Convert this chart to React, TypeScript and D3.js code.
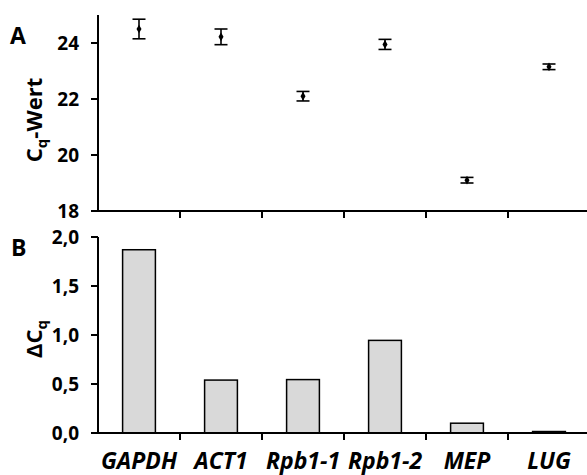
import React from 'react'
import * as d3 from 'd3'

const genes = ['GAPDH', 'ACT1', 'Rpb1-1', 'Rpb1-2', 'MEP', 'LUG']
const cqMean = [24.5, 24.22, 22.1, 23.95, 19.1, 23.15]
const cqErr = [0.35, 0.28, 0.17, 0.18, 0.1, 0.1]
const deltaCq = [1.87, 0.54, 0.545, 0.945, 0.1, 0.015]
const cqTicks = [18, 20, 22, 24]
const dTicks = [0, 0.5, 1, 1.5, 2]

const W = 587
const H = 475
const font = '"Open Sans", sans-serif'

export default function App() {
  const x = d3.scaleBand().domain(genes).range([98, 590])
  const bw = x.bandwidth()
  const yTop = d3.scaleLinear().domain([18, 25]).range([211, 15])
  const yBot = d3.scaleLinear().domain([0, 2]).range([433, 237])
  const diamond = d3.symbol().type(d3.symbolDiamond).size(22)()
  const fmt = (v: number) => d3.format('.1f')(v).replace('.', ',')
  const barW = bw * 0.4

  const catTicks = genes.map(g => x(g)!).concat([x(genes[5])! + bw])

  return (
    <svg width={W} height={H} style={{ position: 'absolute', left: 0, top: 0, background: '#fff' }}>
      {/* panel A */}
      <text x={10} y={44} fontFamily={font} fontWeight="bold" fontSize={23}>A</text>
      <text transform={`translate(42,${120}) rotate(-90)`} textAnchor="middle"
        fontFamily={font} fontWeight="bold" fontSize={22}>
        C<tspan fontSize={15} dy={5}>q</tspan><tspan dy={-5}>-Wert</tspan>
      </text>
      <line x1={98} x2={98} y1={15} y2={211} stroke="#000" strokeWidth={2} />
      <line x1={97} x2={W} y1={211} y2={211} stroke="#000" strokeWidth={2} />
      {cqTicks.map(t => (
        <g key={t}>
          <line x1={91} x2={98} y1={yTop(t)} y2={yTop(t)} stroke="#000" strokeWidth={2} />
          <text x={79} y={yTop(t)} dy="0.36em" textAnchor="end"
            fontFamily={font} fontWeight="bold" fontSize={19}>{t}</text>
        </g>
      ))}
      {catTicks.slice(1).map((t, i) => (
        <line key={i} x1={t} x2={t} y1={211} y2={218} stroke="#000" strokeWidth={2} />
      ))}
      {genes.map((g, i) => {
        const cx = x(g)! + bw / 2
        const y0 = yTop(cqMean[i] - cqErr[i])
        const y1 = yTop(cqMean[i] + cqErr[i])
        return (
          <g key={g} stroke="#000" strokeWidth={1.6}>
            <line x1={cx} x2={cx} y1={y0} y2={y1} />
            <line x1={cx - 6.5} x2={cx + 6.5} y1={y0} y2={y0} />
            <line x1={cx - 6.5} x2={cx + 6.5} y1={y1} y2={y1} />
            <path d={diamond} transform={`translate(${cx},${yTop(cqMean[i])})`} fill="#000" stroke="none" />
          </g>
        )
      })}

      {/* panel B */}
      <text x={11} y={256} fontFamily={font} fontWeight="bold" fontSize={23}>B</text>
      <text transform={`translate(42,${339}) rotate(-90)`} textAnchor="middle"
        fontFamily={font} fontWeight="bold" fontSize={22}>
        ΔC<tspan fontSize={15} dy={5}>q</tspan>
      </text>
      {genes.map((g, i) => (
        <rect key={g} x={x(g)! + (bw - barW) / 2} width={barW}
          y={yBot(deltaCq[i])} height={yBot(0) - yBot(deltaCq[i])}
          fill="#d9d9d9" stroke="#000" strokeWidth={1.5} />
      ))}
      <line x1={98} x2={98} y1={237} y2={433} stroke="#000" strokeWidth={2} />
      <line x1={97} x2={W} y1={433} y2={433} stroke="#000" strokeWidth={2} />
      {dTicks.map(t => (
        <g key={t}>
          <line x1={91} x2={98} y1={yBot(t)} y2={yBot(t)} stroke="#000" strokeWidth={2} />
          <text x={79} y={yBot(t)} dy="0.36em" textAnchor="end"
            fontFamily={font} fontWeight="bold" fontSize={19}>{fmt(t)}</text>
        </g>
      ))}
      {catTicks.slice(1).map((t, i) => (
        <line key={i} x1={t} x2={t} y1={433} y2={440} stroke="#000" strokeWidth={2} />
      ))}
      {genes.map(g => (
        <text key={g} x={x(g)! + bw / 2} y={469} textAnchor="middle"
          fontFamily={font} fontWeight="bold" fontStyle="italic" fontSize={23}>{g}</text>
      ))}
    </svg>
  )
}
